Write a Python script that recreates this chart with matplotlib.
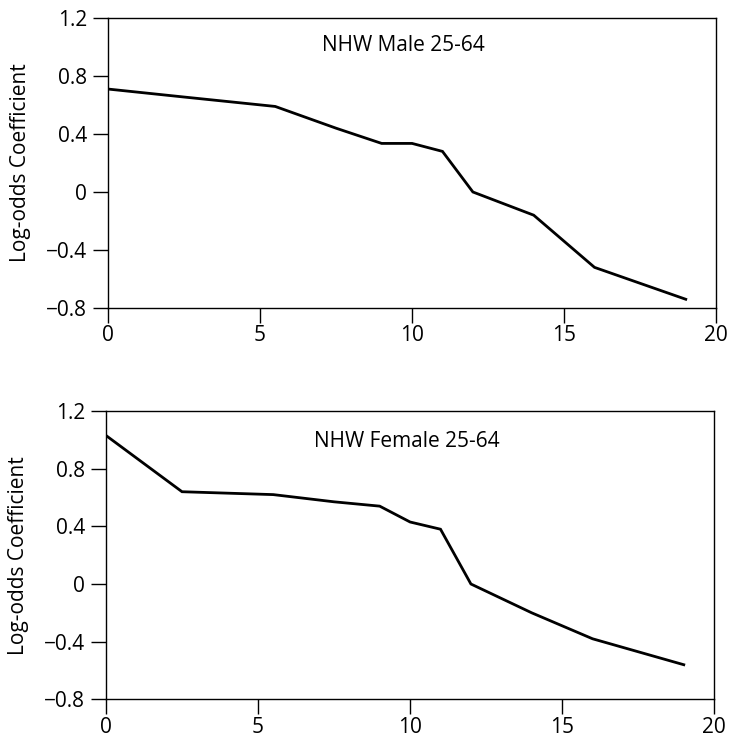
import numpy as np
import matplotlib.pyplot as plt

plt.rcParams['font.family'] = ['Open Sans', 'DejaVu Sans']

# data
years = [0, 2.5, 5.5, 7.5, 9, 10, 11, 12, 14, 16, 19]
male_coef = [0.71, 0.655, 0.59, 0.44, 0.335, 0.335, 0.28, 0.0, -0.16, -0.52, -0.74]
female_coef = [1.03, 0.64, 0.62, 0.57, 0.54, 0.43, 0.38, 0.0, -0.2, -0.38, -0.56]

panels = [
    ('NHW Male 25-64', male_coef, [0.1477, 0.5827, 0.832, 0.3929], 9.7, 1.01),
    ('NHW Female 25-64', female_coef, [0.145, 0.0524, 0.832, 0.3907], 9.9, 0.985),
]

fig = plt.figure(figsize=(7.31, 7.38), dpi=100)

for title, coef, rect, tx, ty in panels:
    ax = fig.add_axes(rect)
    ax.plot(years, coef, color='black', linewidth=2.0, solid_joinstyle='miter')
    ax.set_xlim(0, 20)
    ax.set_ylim(-0.8, 1.2)
    ax.set_xticks([0, 5, 10, 15, 20])
    ax.set_yticks([-0.8, -0.4, 0, 0.4, 0.8, 1.2])
    ax.set_yticklabels(['\u22120.8', '\u22120.4', '0', '0.4', '0.8', '1.2'])
    ax.tick_params(direction='out', length=11, width=1, labelsize=15, pad=4)
    ax.tick_params(axis='x', pad=1.5)
    for s in ax.spines.values():
        s.set_linewidth(1)
    ax.set_ylabel('Log-odds Coefficient', fontsize=15, labelpad=11)
    ax.text(tx, ty, title, ha='center', va='center', fontsize=15)

plt.savefig('out.png', dpi=100)
